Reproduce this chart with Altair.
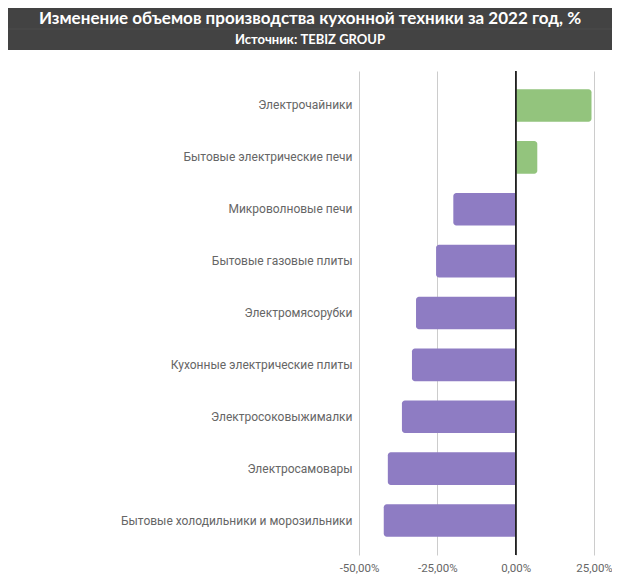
import altair as alt
import pandas as pd

# Data (change in %, 2022)
categories = [
    "Электрочайники",
    "Бытовые электрические печи",
    "Микроволновые печи",
    "Бытовые газовые плиты",
    "Электромясорубки",
    "Кухонные электрические плиты",
    "Электросоковыжималки",
    "Электросамовары",
    "Бытовые холодильники и морозильники",
]
changes = [24.2, 6.9, -19.9, -25.4, -31.8, -33.1, -36.3, -40.8, -42.1]
x_ticks = [-50, -25, 0, 25]

title_text = "Изменение объемов производства кухонной техники за 2022 год, %"
subtitle_text = "Источник: TEBIZ GROUP"

data = pd.DataFrame({"category": categories, "change": changes})
header = pd.DataFrame({"title": [title_text], "subtitle": [subtitle_text]})

W, H = 235, 484
PAD_L, PAD_T, PAD_R, PAD_B = 351, 63, 18, 22

y_enc = alt.Y(
    "category:N",
    sort=categories,
    title=None,
    scale=alt.Scale(paddingInner=0.37, paddingOuter=0.35),
    axis=alt.Axis(
        ticks=False, domain=False, labelColor="#666666", labelFont="Roboto",
        labelFontSize=12, labelPadding=7, labelLimit=400,
    ),
)
x_enc = alt.X(
    "change:Q",
    title=None,
    scale=alt.Scale(domain=[-50, 25], nice=False),
    axis=alt.Axis(
        values=x_ticks, ticks=False, domain=False, grid=True,
        gridColor="#cccccc", labelColor="#666666", labelFont="Roboto",
        labelFontSize=11.5, labelPadding=7, labelFlush=False, labelOverlap=False,
        labelExpr="replace(replace(format(datum.value, '.2f'), '.', ','), '\u2212', '-') + '%'",
    ),
)

base = alt.Chart(data)

pos_bars = base.transform_filter("datum.change >= 0").mark_bar(
    color="#93c47d", cornerRadiusTopRight=3, cornerRadiusBottomRight=3
).encode(x=x_enc, x2=alt.datum(0), y=y_enc)

neg_bars = base.transform_filter("datum.change < 0").mark_bar(
    color="#8e7cc3", cornerRadiusTopLeft=3, cornerRadiusBottomLeft=3
).encode(x=x_enc, x2=alt.datum(0), y=y_enc)

zero_line = base.mark_rule(color="#222222", strokeWidth=1).encode(
    x=alt.datum(0)
)

# Dark header band with the two title lines
band = alt.Chart(header).mark_rect(color="#434343", clip=False).encode(
    x=alt.value(-PAD_L), x2=alt.value(W + PAD_R),
    y=alt.value(-PAD_T), y2=alt.value(-PAD_T + 42),
)
sep = alt.Chart(header).mark_rule(color="#4d4d4d", clip=False).encode(
    x=alt.value(-PAD_L), x2=alt.value(W + PAD_R),
    y=alt.value(-PAD_T + 21),
)
title = alt.Chart(header).mark_text(
    color="white", font="Lato", fontSize=17, fontWeight="bold",
    align="center", baseline="middle", clip=False,
).encode(
    x=alt.value((W + PAD_R - PAD_L) / 2), y=alt.value(-PAD_T + 11),
    text="title:N",
)
subtitle = alt.Chart(header).mark_text(
    color="white", font="Lato", fontSize=13, fontWeight="bold",
    align="center", baseline="middle", clip=False,
).encode(
    x=alt.value((W + PAD_R - PAD_L) / 2), y=alt.value(-PAD_T + 32),
    text="subtitle:N",
)

chart = alt.layer(
    pos_bars, neg_bars, zero_line, band, sep, title, subtitle
).properties(
    width=W,
    height=H,
    background="white",
    autosize=alt.AutoSizeParams(type="none"),
    padding={"left": PAD_L, "top": PAD_T, "right": PAD_R, "bottom": PAD_B},
).configure_view(stroke=None)

chart.save("out.html", embed_options={"renderer": "svg", "actions": False})
